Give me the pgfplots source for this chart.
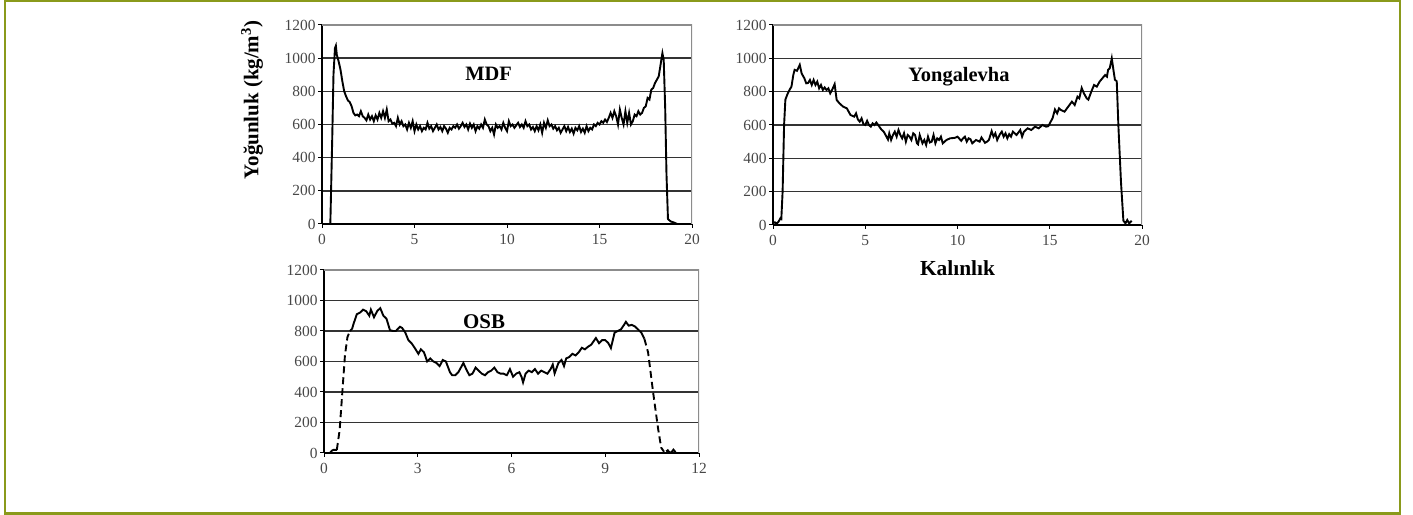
\documentclass[border=0pt]{standalone}
\usepackage{pgfplots}
\pgfplotsset{compat=1.18}
\usepackage{fontspec}
\setmainfont{Liberation Serif}
\definecolor{frame}{HTML}{8A9A1B}

\pgfplotsset{
  dens/.style={
    scale only axis,
    axis x line*=bottom, axis y line*=left,
    axis line style={black, line width=1.5bp},
    tick align=outside, major tick length=4bp,
    tick style={black, line width=1bp},
    ymin=0, ymax=1200, ytick={0,200,...,1000},
    extra y ticks={1200}, extra y tick style={grid=none},
    ymajorgrids, major grid style={black!80, line width=1.5bp},
    tick label style={font=\fontsize{15.5}{15.5}\selectfont, text=black!72},
    xticklabel style={yshift=-3bp},
    yticklabel style={xshift=1bp},
    /pgf/number format/assume math mode=true,
    /pgf/number format/1000 sep={},
  },
  curve/.style={black, line width=1.9bp, no markers},
}

\begin{document}
\begin{tikzpicture}[x=1bp, y=1bp]
\useasboundingbox (0,0) rectangle (1413,515);

% MDF
\begin{axis}[dens, at={(322bp,291bp)}, width=370bp, height=199bp,
  xmin=0, xmax=20, xtick={0,5,10,15,20}]
\draw[black!45, line width=1.2bp] (rel axis cs:0,1) -- (rel axis cs:1,1) -- (rel axis cs:1,0);
\addplot[curve] table {
0.45 0
0.55 500
0.62 900
0.7 1060
0.75 1075
0.8 1020
0.9 980
1.0 930
1.1 860
1.2 800
1.3 770
1.4 745
1.5 735
1.6 710
1.7 670
1.8 655
1.9 660
2.0 650
2.1 680
2.2 650
2.3 640
2.4 625
2.5 660
2.6 630
2.7 650
2.8 620
2.9 655
3.0 630
3.1 670
3.2 640
3.3 680
3.4 640
3.5 690
3.6 620
3.7 630
3.8 605
3.9 610
4.0 590
4.1 640
4.2 600
4.3 620
4.4 590
4.5 600
4.6 570
4.7 610
4.8 580
4.9 620
5.0 560
5.1 600
5.2 570
5.3 590
5.4 560
5.5 580
5.6 570
5.7 610
5.8 575
5.9 590
6.0 560
6.1 580
6.2 600
6.3 570
6.4 585
6.5 560
6.6 590
6.7 575
6.8 550
6.9 580
7.0 570
7.1 590
7.2 580
7.3 600
7.4 575
7.5 590
7.6 610
7.7 585
7.8 600
7.9 570
8.0 605
8.1 580
8.2 600
8.3 560
8.4 590
8.5 575
8.6 600
8.7 580
8.8 630
8.9 600
9.0 590
9.1 560
9.2 580
9.3 540
9.4 600
9.5 580
9.6 590
9.7 570
9.8 610
9.9 580
10.0 560
10.1 620
10.2 590
10.3 600
10.4 580
10.5 595
10.6 610
10.7 585
10.8 600
10.9 580
11.0 620
11.1 590
11.2 600
11.3 570
11.4 585
11.5 560
11.6 590
11.7 565
11.8 600
11.9 550
12.0 610
12.1 580
12.2 625
12.3 590
12.4 600
12.5 575
12.6 590
12.7 565
12.8 580
12.9 550
13.0 570
13.1 590
13.2 560
13.3 585
13.4 555
13.5 575
13.6 545
13.7 580
13.8 565
13.9 590
14.0 555
14.1 575
14.2 550
14.3 590
14.4 560
14.5 580
14.6 570
14.7 600
14.8 590
14.9 610
15.0 600
15.1 620
15.2 610
15.3 630
15.4 615
15.5 640
15.6 670
15.7 640
15.8 680
15.9 650
16.0 600
16.1 690
16.2 640
16.3 600
16.4 680
16.5 610
16.6 670
16.7 600
16.8 620
16.9 660
17.0 650
17.1 680
17.2 660
17.3 670
17.4 700
17.5 710
17.6 760
17.7 750
17.8 810
17.9 820
18.0 850
18.1 870
18.2 890
18.3 960
18.4 1030
18.47 990
18.55 700
18.62 300
18.7 30
18.85 15
19.0 10
19.2 0
};
\node[font=\bfseries\fontsize{20.5}{20.5}\selectfont] at (rel axis cs:0.45,0.754) {MDF};
\end{axis}

% Yongalevha
\begin{axis}[dens, at={(773bp,290bp)}, width=369bp, height=200bp,
  xmin=0, xmax=20, xtick={0,5,10,15,20},
  xlabel={Kalınlık}, xlabel style={font=\bfseries\fontsize{21.5}{21.5}\selectfont, yshift=-8bp}]
\draw[black!45, line width=1.2bp] (rel axis cs:0,1) -- (rel axis cs:1,1) -- (rel axis cs:1,0);
\addplot[curve] table {
0.0 10
0.1 16
0.2 8
0.3 20
0.4 40
0.45 36
0.52 200
0.6 600
0.67 752
0.8 790
0.9 812
1.0 830
1.1 900
1.17 931
1.3 925
1.45 961
1.55 910
1.7 880
1.8 850
1.9 852
2.0 870
2.1 840
2.2 870
2.3 840
2.4 860
2.5 820
2.6 840
2.7 810
2.8 825
2.9 810
3.0 820
3.1 790
3.2 810
3.34 845
3.45 750
3.6 730
3.8 710
4.0 700
4.2 660
4.4 650
4.5 670
4.6 633
4.7 620
4.8 640
4.9 605
5.0 600
5.1 625
5.2 600
5.3 590
5.4 610
5.5 600
5.6 615
5.7 600
5.87 573
6.0 560
6.1 540
6.23 513
6.3 550
6.4 510
6.5 540
6.6 560
6.7 530
6.8 570
6.9 540
7.0 520
7.1 550
7.2 500
7.3 540
7.4 530
7.5 510
7.6 550
7.7 540
7.8 490
7.86 484
7.95 540
8.1 490
8.2 510
8.3 480
8.4 530
8.5 495
8.6 500
8.7 540
8.8 490
8.9 520
9.0 510
9.1 530
9.2 490
9.4 510
9.6 520
9.86 523
10.0 530
10.2 505
10.3 520
10.4 530
10.5 500
10.6 520
10.7 515
10.8 490
11.0 510
11.2 500
11.3 525
11.49 493
11.6 500
11.7 510
11.85 563
11.95 530
12.05 550
12.15 510
12.3 545
12.4 560
12.5 530
12.6 550
12.7 520
12.8 545
12.9 530
13.0 560
13.2 540
13.4 570
13.5 530
13.6 560
13.8 580
14.0 570
14.2 590
14.4 580
14.6 600
14.8 590
14.92 593
15.05 620
15.15 640
15.28 693
15.4 670
15.5 700
15.6 690
15.8 680
16.0 710
16.2 740
16.35 720
16.5 770
16.6 760
16.73 822
16.85 790
17.0 760
17.09 752
17.25 800
17.4 840
17.55 830
17.7 860
17.85 880
18.0 900
18.1 890
18.16 931
18.25 940
18.36 1000
18.45 930
18.53 872
18.63 862
18.72 593
18.86 257
18.99 26
19.1 10
19.2 30
19.3 10
19.44 25
};
\node[font=\bfseries\fontsize{20.5}{20.5}\selectfont] at (rel axis cs:0.504,0.741) {Yongalevha};
\end{axis}

% OSB
\begin{axis}[dens, at={(324bp,62bp)}, width=375bp, height=183bp,
  xmin=0, xmax=12, xtick={0,3,6,9,12}]
\draw[black!45, line width=1.2bp] (rel axis cs:0,1) -- (rel axis cs:1,1) -- (rel axis cs:1,0);
\addplot[curve] table {
0.19 0
0.25 15
0.3 20
0.41 20
};
\addplot[curve, dash pattern=on 7bp off 4bp] table {
0.41 20
0.5 150
0.58 380
0.67 640
0.75 760
0.83 800
};
\addplot[curve] table {
0.83 800
0.9 815
0.95 850
1.05 910
1.15 920
1.25 940
1.35 930
1.45 900
1.5 940
1.6 890
1.7 930
1.8 950
1.9 900
2.0 880
2.11 806
2.2 800
2.3 800
2.43 828
2.5 820
2.6 790
2.7 740
2.8 720
2.9 690
3.02 650
3.1 680
3.2 660
3.3 600
3.4 620
3.5 600
3.6 590
3.7 570
3.8 610
3.9 600
4.03 530
4.1 510
4.2 510
4.3 530
4.46 590
4.55 550
4.65 510
4.75 520
4.85 560
4.95 540
5.05 520
5.15 510
5.25 530
5.35 540
5.45 560
5.55 530
5.65 520
5.75 520
5.85 510
5.95 550
6.05 500
6.15 520
6.25 530
6.32 500
6.37 463
6.45 520
6.55 540
6.65 530
6.75 550
6.85 520
6.95 540
7.05 530
7.15 520
7.25 550
7.32 580
7.38 522
7.5 590
7.6 610
7.68 570
7.75 620
7.85 630
7.95 650
8.05 640
8.15 660
8.25 690
8.35 680
8.45 697
8.55 710
8.7 754
8.8 720
8.9 740
9.0 740
9.1 720
9.18 688
9.3 790
9.4 800
9.5 810
9.6 840
9.66 860
9.75 835
9.85 840
9.95 830
10.05 810
10.15 790
10.25 750
};
\addplot[curve, dash pattern=on 7bp off 4bp] table {
10.25 750
10.37 660
10.45 530
10.53 400
10.61 280
10.69 160
10.79 35
10.88 8
};
\addplot[curve] table {
10.95 10
11.0 18
11.05 5
11.12 5
11.18 22
11.25 5
};
\node[font=\bfseries\fontsize{21}{21}\selectfont] at (rel axis cs:0.427,0.717) {OSB};
\end{axis}

% y label shared by the plots
\node[rotate=90, font=\bfseries\fontsize{21}{21}\selectfont] at (252,415) {Yoğunluk (kg/m\textsuperscript{3})};

% olive frame
\draw[frame, line width=2.6bp] (5,1.5) rectangle (1400,514);
\end{tikzpicture}
\end{document}
